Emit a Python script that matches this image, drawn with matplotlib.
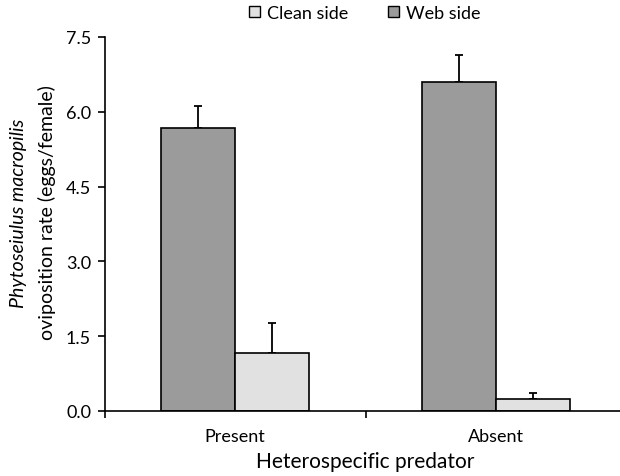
import matplotlib
matplotlib.use("Agg")
import matplotlib.pyplot as plt
from matplotlib.patches import Patch
import numpy as np

plt.rcParams['font.family'] = ['Lato', 'DejaVu Sans']

categories = ["Present", "Absent"]
web_side = [5.67, 6.60]
web_err = [0.45, 0.54]
clean_side = [1.17, 0.24]
clean_err = [0.59, 0.13]
yticks = [0.0, 1.5, 3.0, 4.5, 6.0, 7.5]

web_color = "#9b9b9b"
clean_color = "#e1e1e1"

fig = plt.figure(figsize=(6.2, 4.77), dpi=100)
ax = fig.add_axes([105/620, 1-412/477, 521/620, 374/477])

x = np.arange(len(categories))
w = 0.285
ax.bar(x - w/2, web_side, w, color=web_color, edgecolor="black", linewidth=1.2, zorder=2)
ax.bar(x + w/2, clean_side, w, color=clean_color, edgecolor="black", linewidth=1.2, zorder=2)
ax.errorbar(x - w/2, web_side, yerr=[np.zeros(2), web_err], fmt="none", ecolor="black",
            elinewidth=1.3, capsize=3, capthick=1.3, zorder=1)
ax.errorbar(x + w/2, clean_side, yerr=[np.zeros(2), clean_err], fmt="none", ecolor="black",
            elinewidth=1.3, capsize=3, capthick=1.3, zorder=1)

ax.set_xlim(-0.5, 1.5)
ax.set_ylim(0, 7.5)
ax.set_yticks(yticks)
ax.set_yticklabels([f"{v:.1f}" for v in yticks], fontsize=13)
ax.set_xticks([-0.5, 0.5, 1.5])
ax.set_xticklabels([])
ax.set_xticks(x, minor=True)
ax.set_xticklabels(categories, minor=True, fontsize=13)
ax.tick_params(axis="x", which="minor", length=0, pad=12)
ax.tick_params(axis="x", which="major", direction="out", length=5, width=1.2)
ax.tick_params(axis="y", direction="out", length=5, width=1.2, pad=5)
for s in ["top", "right"]:
    ax.spines[s].set_visible(False)
for s in ["left", "bottom"]:
    ax.spines[s].set_linewidth(1.2)

fig.text(19/620, 1-213/477, "Phytoseiulus macropilis", rotation=90, fontsize=14,
         style="italic", ha="center", va="center")
fig.text(47/620, 1-213/477, "oviposition rate (eggs/female)", rotation=90, fontsize=14,
         ha="center", va="center")
fig.text(365/620, 1-462/477, "Heterospecific predator", fontsize=15, ha="center", va="center")

handles = [Patch(facecolor=clean_color, edgecolor="black", linewidth=1.0),
           Patch(facecolor=web_color, edgecolor="black", linewidth=1.0)]
fig.legend(handles, ["Clean side", "Web side"], loc="center", ncol=2,
           bbox_to_anchor=(365/620, 1-14/477), frameon=False, fontsize=13,
           handlelength=0.6, handleheight=0.6, handletextpad=0.4, columnspacing=2.2)

fig.savefig("out.png", dpi=100)
